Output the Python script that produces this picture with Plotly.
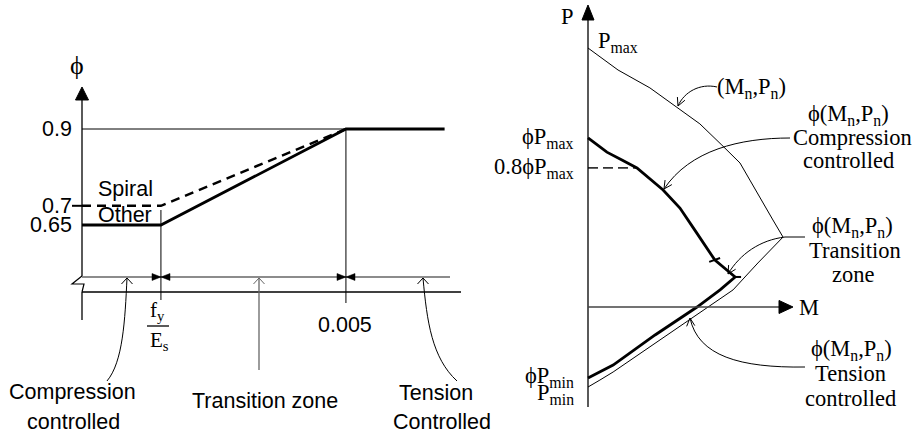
import math
import plotly.graph_objects as go

W, H = 916, 438

# ---------------- Left panel data (strain vs phi) ----------------
STRAIN_AXIS = 0.00072      # strain at the (broken) vertical axis
FY_ES = 0.002              # fy/Es
EPS_T = 0.005              # tension-controlled limit
STRAIN_END = 0.0066
PHI_TICKS = [0.9, 0.7, 0.65]
PHI_TICK_LABELS = ["0.9", "0.7", "0.65"]
SPIRAL_STRAIN = [0.00072, 0.002, 0.005]
SPIRAL_PHI = [0.70, 0.70, 0.90]
OTHER_STRAIN = [0.00072, 0.002, 0.005, 0.0066]
OTHER_PHI = [0.65, 0.65, 0.90, 0.90]
LIMIT_STRAIN = [0.00072, 0.005]
LIMIT_PHI = [0.90, 0.90]

# ---------------- Right panel data (M vs P, normalised by Pmax) ----------------
MN = [0.000, 0.116, 0.239, 0.344, 0.432, 0.517, 0.587, 0.625, 0.668, 0.714, 0.753,
      0.656, 0.560, 0.463, 0.278, 0.097, 0.046, 0.000]
PN = [1.000, 0.915, 0.846, 0.772, 0.707, 0.625, 0.556, 0.490, 0.413, 0.336, 0.270,
      0.170, 0.066, 0.000, -0.127, -0.251, -0.282, -0.309]
PHI_MN = [0.000, 0.073, 0.131, 0.189, 0.290, 0.355, 0.417, 0.490, 0.568,
          0.510, 0.421, 0.259, 0.097, 0.046, 0.000]
PHI_PN = [0.653, 0.598, 0.568, 0.537, 0.452, 0.382, 0.290, 0.181, 0.116,
          0.066, 0.000, -0.108, -0.224, -0.251, -0.274]
CAP_M = [0.000, 0.189]
CAP_P = [0.537, 0.537]
TICK1_M = [0.468, 0.510]
TICK1_P = [0.174, 0.189]
TICK2_M = [0.560, 0.591]
TICK2_P = [0.116, 0.116]

# ---------------- pixel / paper helpers (layout only) ----------------
KX = 185 / 0.003       # px per unit strain
KY = 96 / 0.25         # px per unit phi
K2 = 259               # px per unit (M, P)


def X(px):
    return px / W


def Y(py):
    return 1 - py / H


def poly(pts, close=False):
    s = "M " + " L ".join(f"{X(a):.5f},{Y(b):.5f}" for a, b in pts)
    return s + (" Z" if close else "")


def cubic(p0, c1, c2, p1):
    return (f"M {X(p0[0]):.5f},{Y(p0[1]):.5f} C {X(c1[0]):.5f},{Y(c1[1]):.5f} "
            f"{X(c2[0]):.5f},{Y(c2[1]):.5f} {X(p1[0]):.5f},{Y(p1[1]):.5f}")


def vhead(tip, prev, length=9, ang=27):
    dx, dy = tip[0] - prev[0], tip[1] - prev[1]
    n = math.hypot(dx, dy)
    ux, uy = dx / n, dy / n
    pts = []
    for sgn in (1, -1):
        a = math.radians(sgn * ang)
        rx = (-ux) * math.cos(a) - (-uy) * math.sin(a)
        ry = (-ux) * math.sin(a) + (-uy) * math.cos(a)
        pts.append((tip[0] + rx * length, tip[1] + ry * length))
    return poly([pts[0], tip, pts[1]])


shapes = []


def add_path(path, color="black", width=1.0, fill=None):
    d = dict(type="path", path=path, xref="paper", yref="paper",
             line=dict(color=color, width=width), layer="above")
    if fill:
        d["fillcolor"] = fill
    shapes.append(d)


BLACK = "black"
GRAY = "#666666"

# left axes
add_path(poly([(82, 99), (82, 276)]), BLACK, 1.3)
add_path(poly([(82, 292), (82, 320)]), BLACK, 1.3)
add_path(poly([(82, 87), (75.5, 100), (88.5, 100)], True), BLACK, 1, BLACK)
add_path(poly([(82, 276), (72, 284), (84, 284), (82, 292)]), BLACK, 1.2)
add_path(poly([(82, 292), (461, 292)]), BLACK, 1.3)
# dimension line
add_path(poly([(82, 277), (450, 277)]), GRAY, 1.3)
for xc in (161, 346):
    add_path(poly([(xc, 277), (xc - 9, 273.5), (xc - 9, 280.5)], True), BLACK, 0.5, BLACK)
    add_path(poly([(xc, 277), (xc + 9, 273.5), (xc + 9, 280.5)], True), BLACK, 0.5, BLACK)
# open arrowheads + leaders on left
for xc in (127, 259, 423):
    add_path(poly([(xc - 5.5, 284), (xc, 278), (xc + 5.5, 284)]), BLACK if xc != 259 else GRAY, 1)
add_path(cubic((127, 278), (125, 320), (123, 362), (107, 381)), BLACK, 1)
add_path(poly([(259, 278), (259, 370)]), GRAY, 1.3)
add_path(cubic((423, 278), (427, 322), (432, 358), (457, 381)), BLACK, 1)
# fraction bar
add_path(poly([(147, 326), (169, 326)]), BLACK, 1.3)
# 0.7 tick
add_path(poly([(72, 129 + (0.9 - 0.7) * KY), (82, 129 + (0.9 - 0.7) * KY)]), BLACK, 2)

# reference verticals (data x)
shapes.append(dict(type="line", xref="x", yref="paper", x0=FY_ES, x1=FY_ES,
                   y0=Y(210), y1=Y(300), line=dict(color=BLACK, width=1)))
shapes.append(dict(type="line", xref="x", yref="paper", x0=EPS_T, x1=EPS_T,
                   y0=Y(129), y1=Y(303), line=dict(color=BLACK, width=1)))

# right axes
add_path(poly([(588, 19), (588, 407)]), BLACK, 1.3)
add_path(poly([(588, 5), (582, 20), (594, 20)], True), BLACK, 1, BLACK)
add_path(poly([(588, 307), (780, 307)]), "#444444", 1.5)
add_path(poly([(793, 307), (779, 300.5), (779, 313.5)], True), BLACK, 1, BLACK)

# right leaders
add_path(cubic((717, 87), (700, 83), (684, 92), (678, 106)), BLACK, 1)
add_path(vhead((678, 106), (684, 92)), BLACK, 1)
add_path(cubic((790, 138), (740, 138), (690, 150), (664, 189)), BLACK, 1)
add_path(vhead((664, 189), (690, 150)), BLACK, 1)
add_path(poly([(805, 237), (785, 237)]), BLACK, 1)
add_path(cubic((785, 237), (760, 240), (740, 254), (728, 274)), BLACK, 1)
add_path(vhead((728, 274), (740, 254)), BLACK, 1)
add_path(cubic((805, 367), (740, 368), (698, 356), (690, 318)), BLACK, 1)
add_path(vhead((690, 318), (692, 340)), BLACK, 1)

# ---------------- traces ----------------
fig = go.Figure()
fig.add_trace(go.Scatter(x=LIMIT_STRAIN, y=LIMIT_PHI, mode="lines",
                         line=dict(color=BLACK, width=1), xaxis="x", yaxis="y"))
fig.add_trace(go.Scatter(x=SPIRAL_STRAIN, y=SPIRAL_PHI, mode="lines",
                         line=dict(color=BLACK, width=2.5, dash="9px,6px"), xaxis="x", yaxis="y"))
fig.add_trace(go.Scatter(x=OTHER_STRAIN, y=OTHER_PHI, mode="lines",
                         line=dict(color=BLACK, width=2.8), xaxis="x", yaxis="y"))

fig.add_trace(go.Scatter(x=MN, y=PN, mode="lines",
                         line=dict(color=BLACK, width=1), xaxis="x2", yaxis="y2"))
fig.add_trace(go.Scatter(x=CAP_M, y=CAP_P, mode="lines",
                         line=dict(color="#333333", width=1.6, dash="10px,5px"), xaxis="x2", yaxis="y2"))
fig.add_trace(go.Scatter(x=PHI_MN, y=PHI_PN, mode="lines",
                         line=dict(color=BLACK, width=2.8), xaxis="x2", yaxis="y2"))
fig.add_trace(go.Scatter(x=TICK1_M, y=TICK1_P, mode="lines",
                         line=dict(color=BLACK, width=2), xaxis="x2", yaxis="y2"))
fig.add_trace(go.Scatter(x=TICK2_M, y=TICK2_P, mode="lines",
                         line=dict(color=BLACK, width=2), xaxis="x2", yaxis="y2"))

# ---------------- text ----------------
SANS = "Liberation Sans, Arial, sans-serif"
SERIF = "Liberation Serif, Times New Roman, serif"
LS = 21.5   # left (sans) font size
RS = 22.5   # right (serif) font size
ann = []


def txt(px, py, s, size=20, family=SANS, xa="center", ya="middle"):
    ann.append(dict(x=X(px), y=Y(py), xref="paper", yref="paper", text=s,
                    showarrow=False, xanchor=xa, yanchor=ya,
                    font=dict(family=family, size=size, color=BLACK)))


for v, lab in zip(PHI_TICKS, PHI_TICK_LABELS):
    ann.append(dict(x=X(74), y=v, xref="paper", yref="y", text=lab, showarrow=False,
                    xanchor="right", yanchor="middle",
                    font=dict(family=SANS, size=LS, color=BLACK)))
txt(77, 66, "ϕ", 26, SERIF)
txt(125, 189, "Spiral", LS, SANS)
txt(125, 215.5, "Other", LS, SANS)
txt(157, 311, "f<sub>y</sub>", 21, SERIF)
txt(159, 341, "E<sub>s</sub>", 21, SERIF)
txt(345, 325, "0.005", LS, SANS)
txt(72, 392, "Compression", LS, SANS)
txt(73, 422, "controlled", LS, SANS)
txt(265, 401, "Transition zone", LS, SANS)
txt(436, 393, "Tension", LS, SANS)
txt(442, 422, "Controlled", LS, SANS)

txt(567, 16, "P", RS, SERIF)
txt(596, 42, "P<sub>max</sub>", RS, SERIF, xa="left")
txt(809, 307, "M", RS, SERIF)
txt(576, 138, "ϕP<sub>max</sub>", RS, SERIF, xa="right")
txt(576, 168, "0.8ϕP<sub>max</sub>", RS, SERIF, xa="right")
txt(576, 377, "ϕP<sub>min</sub>", RS, SERIF, xa="right")
txt(576, 394, "P<sub>min</sub>", RS, SERIF, xa="right")
txt(751, 88, "(M<sub>n</sub>,P<sub>n</sub>)", RS, SERIF)
txt(848, 115, "ϕ(M<sub>n</sub>,P<sub>n</sub>)", RS, SERIF)
txt(852, 138, "Compression", RS, SERIF)
txt(848, 160, "controlled", RS, SERIF)
txt(852, 227, "ϕ(M<sub>n</sub>,P<sub>n</sub>)", RS, SERIF)
txt(855, 250, "Transition", RS, SERIF)
txt(853, 274, "zone", RS, SERIF)
txt(851, 350, "ϕ(M<sub>n</sub>,P<sub>n</sub>)", RS, SERIF)
txt(850, 373, "Tension", RS, SERIF)
txt(850, 398, "controlled", RS, SERIF)

hidden = dict(visible=False, fixedrange=True, showgrid=False, zeroline=False)
fig.update_layout(
    width=W, height=H, autosize=False,
    margin=dict(l=0, r=0, t=0, b=0, pad=0),
    paper_bgcolor="white", plot_bgcolor="rgba(0,0,0,0)",
    showlegend=False,
    xaxis=dict(range=[STRAIN_AXIS - 82 / KX, STRAIN_AXIS + (W - 82) / KX],
               domain=[0, 1], anchor="y", **hidden),
    yaxis=dict(range=[0.9 - (H - 129) / KY, 0.9 + 129 / KY],
               domain=[0, 1], anchor="x", **hidden),
    xaxis2=dict(range=[-588 / K2, (W - 588) / K2], domain=[0, 1], anchor="y2", **hidden),
    yaxis2=dict(range=[-(H - 307) / K2, 307 / K2], domain=[0, 1], anchor="x2", **hidden),
    shapes=shapes,
    annotations=ann,
)

fig.write_html("out.html", config={"displayModeBar": False, "staticPlot": True},
               post_script="document.body.style.margin='0';document.body.style.overflow='hidden';")
